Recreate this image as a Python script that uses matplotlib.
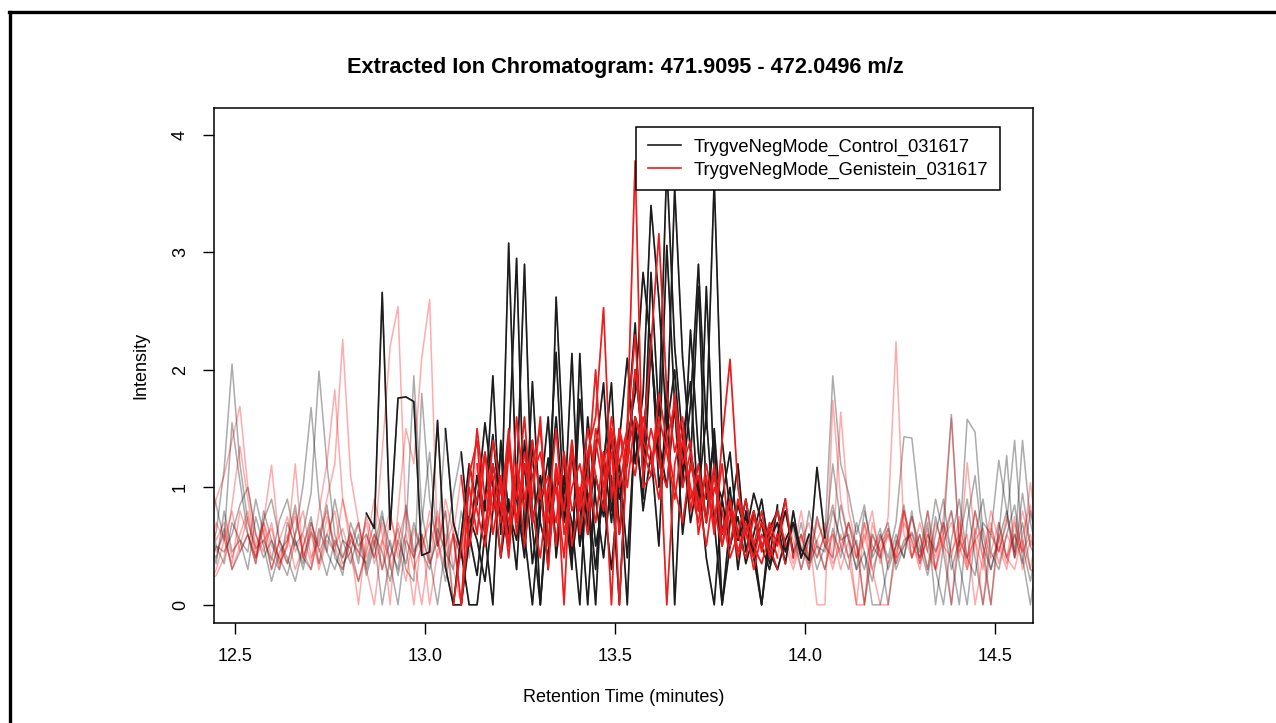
"""Extracted ion chromatogram, control vs genistein (XCMS-style plot)."""
import numpy as np
import matplotlib
matplotlib.use("Agg")
import matplotlib.pyplot as plt
from matplotlib.lines import Line2D

plt.rcParams["font.family"] = ["Liberation Sans", "DejaVu Sans"]

# scan grid (minutes)
RT_START = 12.43
RT_STEP = 0.0208

# intensities per sample
control_1 = [0.45, 0.62, 1.15, 2.05, 1.20, 0.70, 0.48, 0.55, 0.38, 0.72,
             0.90, 0.55, 0.30, 0.62, 0.48, 0.25, 0.55, 0.40, 0.62, 0.35,
             0.78, 0.65, 2.66, 0.64, 1.76, 1.77, 1.73, 0.42, 0.45, 1.57,
             0.32, 0.00, 0.00, 0.55, 1.10, 0.80, 1.95, 0.60, 3.08, 0.90,
             0.40, 1.40, 0.00, 0.85, 1.60, 0.70, 2.14, 0.50, 0.95, 0.30,
             1.20, 1.89, 0.60, 1.50, 2.40, 1.10, 2.83, 1.60, 3.75, 2.20,
             1.40, 1.90, 0.80, 2.71, 1.10, 0.90, 1.30, 0.55, 0.75, 0.40,
             0.00, 0.65, 0.80, 0.45, 0.70, 0.47, 0.38, 1.17, 0.57, 1.95,
             1.20, 0.95, 0.60, 0.85, 0.40, 0.55, 0.70, 0.30, 0.50, 0.62,
             0.45, 0.80, 0.30, 0.00, 0.55, 0.90, 0.40, 0.25, 0.70, 0.60,
             1.23, 0.80, 0.40, 0.95, 0.50, 0.35]
control_2 = [1.10, 0.85, 0.55, 1.55, 1.05, 0.60, 0.40, 0.72, 0.90, 0.55,
             0.35, 0.60, 1.02, 1.68, 0.90, 0.45, 0.30, 0.55, 0.48, 0.20,
             0.45, 0.70, 0.30, 0.55, 0.25, 0.62, 1.95, 0.80, 0.40, 0.00,
             0.50, 0.95, 1.30, 0.60, 0.25, 0.90, 1.45, 0.75, 1.30, 2.95,
             0.60, 0.00, 0.80, 1.25, 0.50, 1.10, 0.40, 1.75, 0.90, 0.00,
             1.30, 0.70, 1.40, 2.10, 1.20, 1.80, 3.40, 2.60, 1.50, 3.55,
             2.10, 1.30, 0.95, 1.60, 0.70, 0.00, 0.50, 0.85, 0.60, 0.95,
             0.70, 0.35, 0.55, 0.80, 0.45, 0.60, 0.30, 0.75, 0.50, 0.40,
             0.85, 0.55, 0.30, 0.45, 0.20, 0.60, 0.40, 0.70, 1.43, 1.42,
             0.80, 0.45, 0.90, 0.60, 1.62, 0.50, 1.58, 1.47, 0.60, 0.30,
             0.55, 0.80, 0.45, 1.40, 0.70, 0.40]
control_3 = [0.30, 0.50, 0.45, 0.60, 0.85, 1.00, 0.60, 0.40, 0.55, 0.30,
             0.70, 0.50, 0.62, 0.95, 1.99, 1.20, 0.60, 0.35, 0.45, 0.70,
             0.30, 0.55, 0.00, 0.40, 0.65, 0.30, 0.20, 1.80, 0.90, 0.50,
             1.50, 0.70, 0.45, 0.00, 0.00, 0.60, 1.20, 0.80, 0.50, 1.00,
             2.90, 0.70, 1.10, 0.30, 2.62, 1.20, 0.40, 0.90, 0.00, 1.10,
             0.75, 1.40, 0.90, 1.20, 2.00, 1.35, 2.30, 1.00, 1.50, 2.00,
             1.10, 1.70, 2.90, 1.50, 3.62, 1.40, 0.80, 0.55, 0.90, 0.45,
             0.70, 0.40, 0.85, 0.50, 0.65, 0.30, 0.55, 0.40, 0.60, 0.85,
             0.50, 0.30, 0.70, 0.45, 0.00, 0.00, 0.35, 0.60, 0.40, 0.75,
             0.50, 0.25, 0.60, 0.90, 0.40, 0.00, 0.70, 1.10, 0.50, 0.30,
             0.60, 1.27, 0.40, 0.70, 0.30, 0.25]
control_4 = [0.60, 0.35, 0.80, 0.45, 0.55, 0.30, 0.75, 0.50, 0.20, 0.45,
             0.55, 0.85, 0.40, 0.30, 0.65, 0.45, 0.90, 0.55, 0.35, 0.60,
             0.25, 0.50, 0.80, 0.35, 0.00, 0.55, 0.40, 0.70, 1.30, 0.50,
             0.80, 0.00, 0.60, 1.20, 0.85, 1.55, 1.00, 0.40, 0.90, 0.30,
             1.40, 0.65, 0.00, 1.00, 2.15, 0.80, 1.30, 0.50, 1.60, 0.90,
             0.40, 1.10, 0.00, 1.40, 1.80, 2.83, 2.20, 1.20, 3.06, 1.70,
             1.00, 2.34, 1.30, 0.70, 1.50, 0.60, 1.00, 0.30, 0.80, 0.50,
             0.00, 0.55, 0.70, 0.35, 0.80, 0.40, 0.60, 0.30, 0.50, 1.20,
             0.70, 0.40, 0.55, 0.00, 0.45, 0.65, 0.30, 0.50, 0.85, 0.40,
             0.60, 0.30, 0.75, 0.45, 0.00, 0.55, 0.90, 0.40, 0.00, 0.60,
             0.45, 0.70, 1.40, 0.50, 0.20, 0.55]
control_5 = [0.85, 0.50, 0.35, 0.70, 0.55, 0.45, 0.90, 0.60, 0.30, 0.55,
             0.40, 0.20, 0.50, 0.75, 0.35, 0.60, 0.45, 0.25, 0.70, 0.50,
             0.60, 0.40, 0.75, 0.50, 0.30, 0.85, 0.45, 0.60, 0.35, 0.55,
             0.20, 0.60, 0.40, 0.75, 0.55, 0.20, 0.80, 1.30, 0.60, 1.00,
             0.50, 1.90, 0.70, 0.40, 1.10, 0.90, 0.30, 2.14, 0.60, 1.30,
             1.89, 0.80, 1.20, 0.40, 1.50, 0.90, 2.20, 1.40, 1.00, 1.70,
             0.60, 1.20, 2.71, 0.90, 1.40, 0.00, 0.70, 1.20, 0.45, 0.80,
             0.50, 0.30, 0.60, 0.90, 0.40, 0.70, 0.35, 0.50, 0.45, 0.80,
             0.55, 0.60, 0.30, 0.80, 0.50, 0.40, 0.65, 0.35, 0.55, 0.60,
             0.40, 0.70, 0.00, 0.50, 0.80, 0.35, 0.00, 0.60, 0.90, 0.45,
             0.30, 0.60, 0.85, 0.40, 0.00, 0.50]
control_6 = [0.50, 0.40, 0.65, 0.30, 0.45, 0.60, 0.35, 0.80, 0.55, 0.40,
             0.25, 0.55, 0.35, 0.70, 0.50, 0.85, 0.40, 0.30, 0.55, 0.45,
             0.35, 0.60, 0.45, 0.20, 0.55, 0.35, 0.70, 0.45, 0.30, 0.65,
             0.45, 0.30, 0.80, 0.40, 1.10, 0.60, 0.00, 1.40, 0.80, 0.55,
             1.20, 0.35, 0.90, 1.60, 0.40, 1.00, 0.70, 0.00, 1.30, 0.50,
             0.90, 0.30, 1.10, 0.00, 1.60, 0.80, 1.30, 0.50, 1.90, 0.00,
             1.40, 0.70, 1.10, 0.40, 0.00, 0.90, 0.50, 0.75, 0.35, 0.60,
             0.90, 0.45, 0.30, 0.55, 0.70, 0.40, 0.80, 0.50, 0.30, 0.65,
             0.40, 0.70, 0.50, 0.30, 0.60, 0.45, 0.00, 0.55, 0.40, 0.80,
             0.35, 0.60, 0.45, 0.70, 0.30, 0.55, 0.40, 0.80, 0.50, 0.00,
             0.70, 0.40, 0.60, 0.35, 0.80, 0.45]

genistein_1 = [0.55, 0.90, 1.10, 1.40, 1.69, 1.00, 0.60, 0.45, 0.70, 0.35,
               0.50, 0.80, 0.40, 0.65, 0.30, 0.55, 0.45, 0.90, 0.60, 0.40,
               0.75, 0.50, 1.30, 2.20, 2.54, 0.70, 0.40, 0.60, 0.00, 0.45,
               0.80, 0.30, 0.00, 1.10, 1.40, 0.60, 1.20, 0.80, 1.50, 0.70,
               1.30, 0.90, 1.60, 0.50, 1.20, 0.80, 1.40, 0.60, 1.10, 2.00,
               0.90, 1.30, 0.60, 1.50, 3.78, 1.00, 1.10, 1.60, 1.30, 0.90,
               1.40, 1.00, 0.70, 1.20, 0.80, 0.50, 0.90, 0.60, 0.40, 0.75,
               0.50, 0.65, 0.40, 0.80, 0.55, 0.30, 0.60, 0.00, 0.00, 1.74,
               0.90, 0.55, 0.40, 0.70, 0.30, 0.50, 0.65, 0.40, 0.80, 0.55,
               0.30, 0.60, 0.40, 0.75, 1.59, 0.50, 0.30, 0.65, 0.40, 0.80,
               0.55, 0.35, 0.60, 0.45, 1.04, 0.50]
genistein_2 = [0.20, 0.25, 0.40, 0.85, 1.35, 0.90, 0.50, 0.70, 0.40, 0.30,
               0.55, 0.75, 0.45, 0.30, 0.60, 0.80, 0.50, 0.65, 0.40, 0.20,
               0.50, 0.90, 0.60, 0.00, 0.80, 1.50, 1.20, 2.10, 2.60, 0.50,
               0.90, 0.60, 0.00, 0.70, 1.50, 0.90, 1.10, 0.40, 1.30, 0.90,
               1.60, 0.70, 1.00, 0.30, 1.20, 0.00, 1.40, 0.80, 1.30, 1.60,
               2.53, 0.90, 1.50, 1.20, 2.00, 1.40, 2.20, 3.16, 1.80, 1.30,
               1.60, 0.80, 1.20, 0.70, 1.10, 0.60, 0.90, 0.45, 0.70, 0.50,
               0.80, 0.40, 0.60, 0.35, 0.70, 0.50, 0.30, 0.55, 0.70, 0.40,
               1.64, 0.80, 0.50, 0.00, 0.60, 0.40, 0.75, 2.24, 0.60, 0.40,
               0.70, 0.45, 0.30, 0.60, 0.80, 0.40, 1.21, 0.55, 0.00, 0.45,
               0.70, 0.40, 0.30, 0.60, 0.85, 0.40]
genistein_3 = [0.90, 0.55, 0.70, 0.40, 0.60, 0.80, 0.45, 0.70, 1.19, 0.50,
               0.35, 0.60, 0.80, 0.40, 0.55, 0.90, 1.20, 2.26, 1.10, 0.70,
               0.40, 0.60, 0.30, 0.75, 0.50, 0.20, 0.65, 0.45, 0.80, 0.55,
               0.30, 0.60, 0.40, 1.20, 0.80, 0.50, 1.00, 0.70, 1.40, 0.60,
               1.20, 0.80, 0.40, 1.00, 0.70, 1.30, 0.50, 0.90, 1.10, 0.70,
               1.30, 0.00, 1.50, 1.00, 1.60, 1.30, 1.10, 1.80, 1.40, 1.70,
               1.00, 1.30, 0.80, 1.10, 0.60, 1.40, 2.09, 1.00, 0.60, 0.80,
               0.45, 0.70, 0.50, 0.90, 0.40, 0.60, 0.35, 0.70, 0.55, 0.30,
               0.60, 0.40, 0.00, 0.00, 0.70, 0.45, 0.60, 0.35, 0.80, 0.50,
               0.40, 0.65, 0.30, 0.55, 0.70, 0.45, 0.60, 0.00, 0.40, 0.70,
               0.35, 0.60, 0.45, 0.80, 0.50, 0.60]
genistein_4 = [0.40, 0.70, 0.55, 0.35, 0.80, 0.60, 0.40, 0.65, 0.30, 0.55,
               0.75, 0.45, 0.60, 0.35, 0.80, 1.20, 1.83, 0.90, 0.50, 0.00,
               0.60, 0.40, 0.70, 0.30, 0.55, 0.80, 0.40, 0.00, 0.50, 0.75,
               0.40, 0.60, 1.10, 0.50, 0.90, 1.30, 0.60, 1.00, 0.40, 1.20,
               0.80, 1.40, 0.90, 1.10, 0.50, 1.30, 0.80, 1.00, 0.60, 1.40,
               1.00, 1.50, 0.00, 1.30, 1.60, 1.40, 1.20, 1.50, 0.00, 1.20,
               1.50, 0.90, 1.10, 0.70, 1.20, 0.50, 0.80, 0.40, 0.65, 0.30,
               0.60, 0.45, 0.70, 0.55, 0.35, 0.60, 0.40, 0.75, 0.50, 0.60,
               0.30, 0.55, 0.00, 0.70, 0.45, 0.60, 0.35, 0.50, 0.80, 0.40,
               0.60, 0.30, 0.70, 0.50, 0.40, 0.75, 0.30, 0.55, 0.65, 0.40,
               0.50, 0.30, 0.70, 0.45, 0.60, 0.35]
genistein_5 = [0.15, 0.30, 0.55, 0.80, 0.45, 0.60, 0.35, 0.70, 0.50, 0.40,
               0.60, 0.30, 0.50, 0.70, 0.45, 0.60, 0.80, 0.40, 0.55, 0.70,
               0.30, 0.00, 0.55, 0.40, 0.70, 0.50, 0.00, 0.60, 0.35, 0.80,
               0.50, 0.70, 0.40, 0.80, 1.20, 0.60, 1.40, 1.00, 0.70, 1.20,
               0.50, 1.10, 1.30, 0.80, 1.50, 0.60, 1.00, 1.20, 0.80, 1.50,
               1.20, 1.50, 1.00, 1.40, 1.10, 1.60, 1.30, 0.90, 1.40, 1.00,
               0.70, 1.20, 0.90, 0.50, 1.00, 0.80, 0.40, 0.60, 0.90, 0.50,
               0.35, 0.60, 0.80, 0.50, 0.30, 0.55, 0.70, 0.40, 0.60, 0.35,
               0.50, 0.70, 0.40, 0.60, 0.30, 0.00, 0.00, 0.45, 0.70, 0.55,
               0.35, 0.80, 0.45, 0.60, 0.00, 0.70, 0.40, 0.55, 0.30, 0.65,
               0.45, 0.75, 0.40, 0.55, 0.30, 0.70]
genistein_6 = [0.70, 0.45, 0.60, 0.30, 0.50, 0.75, 0.40, 0.55, 0.65, 0.35,
               0.50, 1.20, 0.40, 0.60, 0.35, 0.75, 0.50, 0.30, 0.60, 0.45,
               0.70, 0.35, 0.55, 0.80, 0.40, 0.60, 0.30, 0.50, 0.70, 0.40,
               0.60, 0.00, 0.50, 1.00, 0.60, 1.30, 0.80, 1.10, 0.50, 1.60,
               0.90, 1.20, 1.50, 0.70, 1.00, 0.40, 1.30, 0.90, 1.50, 1.10,
               0.80, 1.60, 1.20, 1.50, 2.30, 1.10, 1.50, 1.20, 1.00, 1.80,
               1.20, 1.40, 0.60, 1.00, 0.70, 1.20, 0.50, 0.90, 0.60, 0.40,
               0.70, 0.50, 0.30, 0.60, 0.45, 0.80, 0.40, 0.55, 0.30, 0.60,
               0.45, 0.70, 0.40, 0.55, 0.80, 0.35, 0.60, 0.40, 0.50, 0.75,
               0.40, 0.55, 0.30, 0.70, 0.45, 0.60, 0.35, 0.80, 0.40, 0.00,
               0.60, 0.40, 0.75, 0.30, 0.55, 0.45]

control_samples = [control_1, control_2, control_3, control_4, control_5, control_6]
genistein_samples = [genistein_1, genistein_2, genistein_3, genistein_4, genistein_5, genistein_6]

# detected peak range per sample (scan index, inclusive) -> drawn in full colour
control_peaks = [(20, 78), (32, 74), (30, 72), (31, 76), (33, 73), (34, 75)]
genistein_peaks = [(32, 72), (31, 73), (33, 74), (32, 71), (34, 73), (31, 72)]

group_names = ["TrygveNegMode_Control_031617", "TrygveNegMode_Genistein_031617"]
x_ticks = [12.5, 13.0, 13.5, 14.0, 14.5]
y_ticks = [0, 1, 2, 3, 4]

W, H = 1276, 723
fig = plt.figure(figsize=(W / 100, H / 100), dpi=100)
ax = fig.add_axes([214 / W, 1 - 623 / H, (1033 - 214) / W, (623 - 108) / H])

groups = [
    (control_samples, control_peaks, "#000000", "#1c1c1c"),
    (genistein_samples, genistein_peaks, "#ff0000", "#ee1c1c"),
]

# faint full traces first
for samples, _, col, _ in groups:
    for s in samples:
        rt = RT_START + RT_STEP * np.arange(len(s))
        ax.plot(rt, s, color=col, alpha=0.33, lw=1.1)

# then the peak region of each sample, solid
for samples, peaks, _, dark in groups:
    for s, (a, b) in zip(samples, peaks):
        rt = RT_START + RT_STEP * np.arange(len(s))
        ax.plot(rt[a:b + 1], s[a:b + 1], color=dark, lw=1.2)

ax.set_xlim(12.445, 14.6)
ax.set_ylim(-0.155, 4.23)
ax.set_xticks(x_ticks)
ax.set_xticklabels([f"{v:.1f}" for v in x_ticks])
ax.set_yticks(y_ticks)
ax.set_yticklabels([str(v) for v in y_ticks], rotation=90, va="center")
ax.tick_params(direction="out", length=8, width=1, labelsize=13, pad=10)
for sp in ax.spines.values():
    sp.set_linewidth(1.1)

handles = [Line2D([], [], color="#1c1c1c", lw=1.2), Line2D([], [], color="#ee1c1c", lw=1.2)]
leg = ax.legend(handles, group_names, loc="upper left",
                bbox_to_anchor=((636 - 214) / 819, (623 - 127) / 515),
                borderaxespad=0, fontsize=13.2, fancybox=False, framealpha=1,
                edgecolor="black", handlelength=1.8, handletextpad=0.7,
                borderpad=0.64, labelspacing=0.3)
leg.get_frame().set_linewidth(1.1)
leg.set_zorder(5)

fig.text(625 / W, 1 - 67 / H, "Extracted Ion Chromatogram: 471.9095 - 472.0496 m/z",
         ha="center", va="center", fontsize=15.7, fontweight="bold")
fig.text(624 / W, 1 - 698 / H, "Retention Time (minutes)", ha="center", va="center", fontsize=13)
fig.text(141 / W, 1 - 365 / H, "Intensity", ha="center", va="center", fontsize=13, rotation=90)

# outer frame of the screenshot (top and left edges)
fig.add_artist(Line2D([9 / W, 1], [1 - 12 / H, 1 - 12 / H], color="black", lw=2.4,
                      transform=fig.transFigure))
fig.add_artist(Line2D([10 / W, 10 / W], [0, 1 - 12 / H], color="black", lw=2.4,
                      transform=fig.transFigure))

fig.savefig("out.png", dpi=100)
